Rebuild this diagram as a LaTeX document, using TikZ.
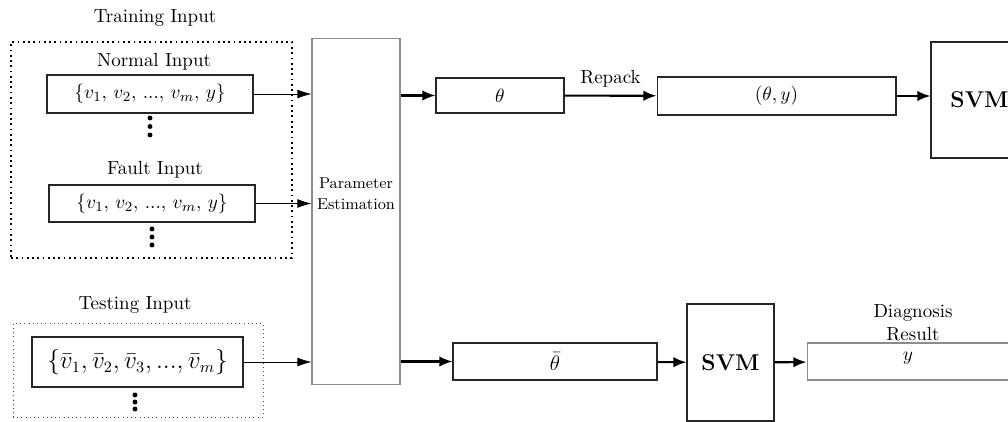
\documentclass[tikz,border=0pt]{standalone}
\usepackage{amsmath}
\usetikzlibrary{arrows.meta}

\tikzset{
  txt/.style={font=\fontsize{10.8}{13}\selectfont},
  blk/.style={draw=black!85, semithick, inner sep=0pt, txt},
  gry/.style={draw=black!45, semithick, inner sep=0pt, txt},
  grp/.style={draw, dotted, inner sep=0pt},
  svmtxt/.style={font=\fontsize{13}{15}\selectfont\bfseries},
  arr/.style={-{Latex[length=8pt,width=5pt]}},
  barr/.style={-{Latex[length=7.5pt,width=6pt]}, line width=1.2pt},
}

\begin{document}
\begin{tikzpicture}[x=0.02cm,y=-0.02cm]

  \useasboundingbox (0,0) rectangle (1008,422);
  \clip (0,0) rectangle (1008,422);

  % training side
  \node [grp, line width=1pt, minimum width=5.62cm, minimum height=4.32cm] (trainbox) at (151.5,150) {};
  \node [txt] (trainlab) at (155,18) {Training Input};
  \node [txt] (normlab) at (154,62) {Normal Input};
  \node [blk, minimum width=4.12cm, minimum height=0.76cm] (normal) at (150,94) {$\{v_1,\, v_2,\, ...,\, v_m,\, y\}$};
  \node [txt] (faultlab) at (155,170) {Fault Input};
  \node [blk, minimum width=4.12cm, minimum height=0.74cm] (fault) at (152,203.5) {$\{v_1,\, v_2,\, ...,\, v_m,\, y\}$};
  \foreach \d in {0,1,2} {
    \fill (150,118+8.5*\d) circle (1.4pt);
    \fill (152,229+8*\d) circle (1.4pt);
  }

  % testing side
  \node [grp, draw=black!70, minimum width=5.0cm, minimum height=1.88cm] (testbox) at (138,370) {};
  \node [txt] (testlab) at (135,305) {Testing Input};
  \node [blk, minimum width=4.22cm, minimum height=1.0cm, font=\fontsize{13.4}{16}\selectfont] (test) at (137.5,362) {$\{\bar{v}_1, \bar{v}_2, \bar{v}_3, ..., \bar{v}_m\}$};
  \foreach \d in {0,1,2}
    \fill (135,395+7*\d) circle (1.4pt);

  % estimation
  \node [gry, minimum width=1.76cm, minimum height=6.94cm, align=center,
         font=\fontsize{9}{12}\selectfont] (param) at (356,211.5) {Parameter\\Estimation\\[8pt]};

  % training path
  \node [blk, minimum width=2.56cm, minimum height=0.70cm] (theta) at (500,95.5) {$\theta$};
  \node [blk, minimum width=4.78cm, minimum height=0.76cm] (pack) at (776.5,96) {$(\theta, y)$};
  \node [blk, minimum width=1.94cm, minimum height=2.32cm, svmtxt] (svmtop) at (979.5,100) {SVM};

  % testing path
  \node [blk, minimum width=4.08cm, minimum height=0.74cm, font=\fontsize{12.5}{15}\selectfont] (thetabar) at (555,361.5) {$\bar{\theta}$};
  \node [blk, minimum width=1.74cm, minimum height=2.34cm, svmtxt] (svm) at (730.5,362.5) {SVM};
  \node [gry, minimum width=4.8cm, minimum height=0.74cm] (result) at (927,361.5) {};
  \node [txt] (resy) at (908,358) {$y$};
  \node [txt, align=center] (reslab) at (913,323) {Diagnosis\\Result};

  % connectors
  \draw [arr] (normal.east) -- (normal.east -| param.west);
  \draw [arr] (fault.east) -- (fault.east -| param.west);
  \draw [arr] (test.east) -- (test.east -| param.west);
  \draw [barr] (param.east |- theta.west) -- (theta.west);
  \draw [barr] (theta) -- node [above, txt, yshift=1pt] {Repack} (pack);
  \draw [barr] (pack.east) -- (pack.east -| svmtop.west);
  \draw [barr] (param.east |- thetabar.west) -- (thetabar.west);
  \draw [barr] (thetabar) -- (svm);
  \draw [barr] (svm) -- (result);

\end{tikzpicture}
\end{document}
